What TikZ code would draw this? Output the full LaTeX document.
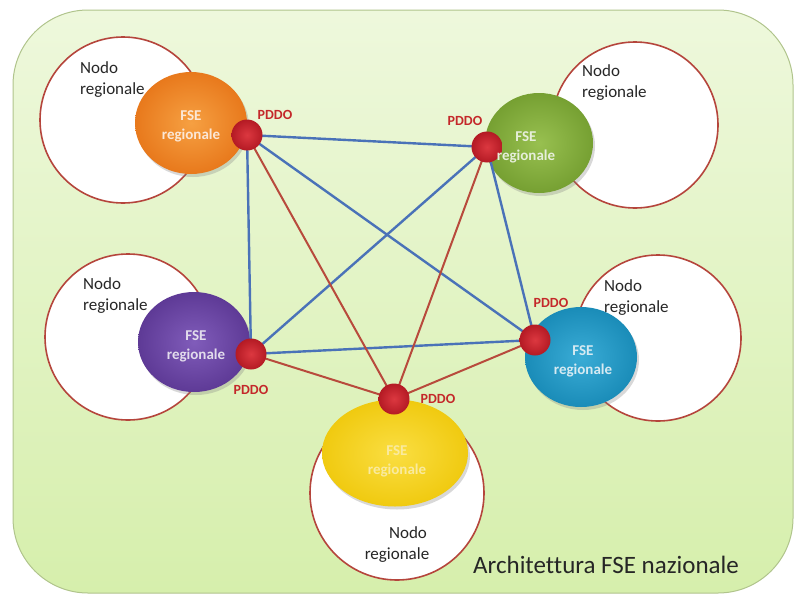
\documentclass[tikz,border=0pt]{standalone}
\usepackage{fontspec}
\setmainfont{Carlito}[Ligatures=NoCommon]
\usetikzlibrary{shapes.geometric,shadows}
\definecolor{bgtop}{RGB}{238,248,220}
\definecolor{bgbot}{RGB}{214,239,172}
\definecolor{bgline}{RGB}{176,196,140}
\definecolor{ringred}{RGB}{181,69,60}
\definecolor{blueline}{RGB}{74,114,184}
\definecolor{redline}{RGB}{184,74,60}
\definecolor{pddored}{RGB}{196,40,42}
\definecolor{orA}{RGB}{232,121,28}\definecolor{orB}{RGB}{246,160,66}
\definecolor{grA}{RGB}{118,160,50}\definecolor{grB}{RGB}{152,192,80}
\definecolor{puA}{RGB}{94,58,150}\definecolor{puB}{RGB}{128,92,186}
\definecolor{cyA}{RGB}{26,140,184}\definecolor{cyB}{RGB}{58,172,214}
\definecolor{yeA}{RGB}{240,202,16}\definecolor{yeB}{RGB}{250,222,66}
\definecolor{dotA}{RGB}{180,26,36}\definecolor{dotB}{RGB}{220,56,64}
\begin{document}
\begin{tikzpicture}[x=1pt,y=-1pt,
  nodocircle/.style={circle,draw=ringred,line width=1.6pt,fill=white,minimum size=#1,inner sep=0pt},
  fse/.style 2 args={ellipse,inner color=#2,outer color=#1,minimum width=112pt,minimum height=102pt,inner sep=0pt,
     drop shadow={shadow xshift=2pt,shadow yshift=-3pt,opacity=0.3}},
  fsetext/.style={align=center,font=\fontsize{15}{19}\selectfont\bfseries,text=#1,inner sep=0pt},
  nodotext/.style={align=left,font=\fontsize{17}{21}\selectfont,text=black!85,inner sep=0pt,anchor=north west},
  pddo/.style={circle,inner color=dotB,outer color=dotA,minimum size=31pt,inner sep=0pt},
  pddolabel/.style={font=\fontsize{14}{16}\selectfont\bfseries,text=pddored,inner sep=0pt},
  bl/.style={draw=blueline,line width=2.4pt},
  rl/.style={draw=redline,line width=2pt}]
\useasboundingbox (0,0) rectangle (794,597);
\path[draw=bgline,line width=1pt,top color=bgtop,bottom color=bgbot,rounded corners=75pt] (13,10) rectangle (793,593);

% regional node circles
\node[nodocircle=166pt] (c1) at (123,120) {};
\node[nodocircle=166pt] (c2) at (635,125) {};
\node[nodocircle=166pt] (c3) at (128,337) {};
\node[nodocircle=166pt] (c4) at (658,338) {};
\node[nodocircle=174pt] (c5) at (397,493) {};

% FSE ellipses
\node[fse={orA}{orB}] (e1) at (191,123) {};
\node[fse={grA}{grB},minimum width=108pt,minimum height=100pt] (e2) at (539,143) {};
\node[fse={puA}{puB},minimum height=100pt] (e3) at (194,342) {};
\node[fse={cyA}{cyB},minimum height=100pt] (e4) at (581,357) {};
\node[fse={yeA}{yeB},minimum width=146pt,minimum height=107pt] (e5) at (395,453) {};

% PDDO points
\coordinate (o) at (247,135);
\coordinate (g) at (487,147);
\coordinate (p) at (251,354);
\coordinate (c) at (535,340);
\coordinate (y) at (394,399);

% connectors
\draw[bl] (o) -- (g);
\draw[bl] (o) -- (p);
\draw[bl] (o) -- (c);
\draw[bl] (g) -- (p);
\draw[bl] (g) -- (c);
\draw[bl] (p) -- (c);
\draw[rl] (o) -- (y);
\draw[rl] (g) -- (y);
\draw[rl] (p) -- (y);
\draw[rl] (c) -- (y);

\node[pddo] (d1) at (o) {};
\node[pddo] (d2) at (g) {};
\node[pddo] (d3) at (p) {};
\node[pddo] (d4) at (c) {};
\node[pddo] (d5) at (y) {};

% texts
\node[fsetext=white!82!orA] (t1) at (191,126) {FSE\\regionale};
\node[fsetext=white!82!grA] (t2) at (526,147) {FSE\\regionale};
\node[fsetext=white!82!puA] (t3) at (196,346) {FSE\\regionale};
\node[fsetext=white!82!cyA] (t4) at (583,361) {FSE\\regionale};
\node[fsetext=white!60!yeA] (t5) at (397,461) {FSE\\regionale};

\node[nodotext] (n1) at (80,61) {Nodo\\regionale};
\node[nodotext] (n2) at (582,64) {Nodo\\regionale};
\node[nodotext] (n3) at (83,277) {Nodo\\regionale};
\node[nodotext] (n4) at (604,279) {Nodo\\regionale};
\node[nodotext,align=center,anchor=north] (n5) at (397,526) {\hspace*{22pt}Nodo\\regionale};

\node[pddolabel] (l1) at (275,115) {PDDO};
\node[pddolabel] (l2) at (465,121) {PDDO};
\node[pddolabel] (l3) at (251,390) {PDDO};
\node[pddolabel] (l4) at (551,303) {PDDO};
\node[pddolabel] (l5) at (438,399) {PDDO};

\node[font=\fontsize{25}{30}\selectfont,text=black!85,inner sep=0pt,anchor=base west] (title) at (473,573) {Architettura FSE nazionale};
\end{tikzpicture}
\end{document}
